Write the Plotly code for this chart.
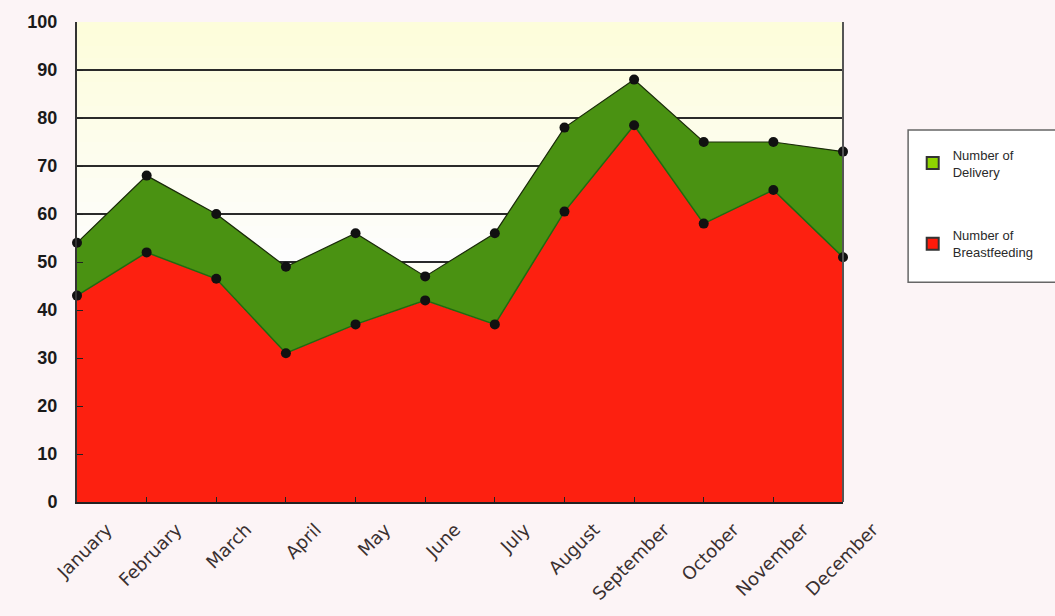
import plotly.graph_objects as go

months = ["January", "February", "March", "April", "May", "June", "July",
          "August", "September", "October", "November", "December"]
delivery = [54, 68, 60, 49, 56, 47, 56, 78, 88, 75, 75, 73]
breastfeeding = [43, 52, 46.5, 31, 37, 42, 37, 60.5, 78.5, 58, 65, 51]
y_ticks = [0, 10, 20, 30, 40, 50, 60, 70, 80, 90, 100]

fig = go.Figure()

fig.add_trace(go.Scatter(
    x=months, y=breastfeeding, mode="lines+markers", fill="tozeroy",
    fillcolor="#fd2010", line=dict(color="#1f6a10", width=1.5),
    marker=dict(color="#111111", size=10), showlegend=False, cliponaxis=False,
    name="Number of Breastfeeding"))
fig.add_trace(go.Scatter(
    x=months, y=delivery, mode="lines+markers", fill="tonexty",
    fillcolor="#4a9212", line=dict(color="#1a2a0a", width=1.2),
    marker=dict(color="#111111", size=10), showlegend=False, cliponaxis=False,
    name="Number of Delivery"))

# legend entries
fig.add_trace(go.Scatter(
    x=[None], y=[None], mode="markers", name="Number of<br>Delivery",
    legendgroup="d",
    marker=dict(symbol="square", size=11, color="#8fd400",
                line=dict(color="#333333", width=1.5))))
fig.add_trace(go.Scatter(
    x=[None], y=[None], mode="markers", name="Number of<br>Breastfeeding",
    legendgroup="b",
    marker=dict(symbol="square", size=11, color="#ff1a0a",
                line=dict(color="#333333", width=1.5))))

# soft yellow gradient in the upper plot area
n_bands = 20
for i in range(n_bands):
    y0 = 50 + i * 50 / n_bands
    t = (i + 1) / n_bands
    b = int(255 - 36 * t)
    fig.add_shape(type="rect", xref="paper", yref="y", x0=0, x1=1,
                  y0=y0, y1=y0 + 50 / n_bands, layer="below",
                  line=dict(width=0), fillcolor=f"rgb(253,253,{b})")

# legend frame (extends past the right edge like the original)
fig.add_shape(type="rect", xref="paper", yref="paper",
              x0=1.085, x1=1.29, y0=0.458, y1=0.775, layer="below",
              line=dict(color="#666666", width=1.5), fillcolor="#ffffff")

fig.update_layout(
    width=1055, height=616,
    margin=dict(l=77, r=212, t=22, b=114),
    paper_bgcolor="#fcf4f6",
    plot_bgcolor="#fefef6",
    font=dict(family="Liberation Sans, Arial, sans-serif", color="#1a1a1a"),
    legend=dict(
        x=1.091, y=0.755, xanchor="left", yanchor="top",
        traceorder="grouped",
        bgcolor="rgba(0,0,0,0)", borderwidth=0,
        font=dict(size=13, color="#2a2a2a"),
        tracegroupgap=44, itemsizing="constant",
    ),
)

fig.update_xaxes(
    type="category", range=[0, 11], tickangle=-45,
    tickfont=dict(size=18, family="DejaVu Sans, sans-serif", color="#3a3030"),
    ticks="inside", ticklen=5, tickcolor="#222222",
    ticklabelshift=30, ticklabelstandoff=8,
    showline=True, linecolor="#222222", linewidth=2, mirror=False,
    showgrid=False, zeroline=False,
)
fig.update_yaxes(
    range=[0, 100], tickvals=y_ticks, ticktext=[str(v) for v in y_ticks],
    tickfont=dict(size=18, color="#1a1a1a", weight="bold"),
    ticks="inside", ticklen=6, tickcolor="#222222", ticklabelstandoff=14,
    showline=True, linecolor="#333333", linewidth=2,
    showgrid=True, gridcolor="#2a2a2a", gridwidth=2, zeroline=False,
)

# right border of the plot area
fig.add_shape(type="line", xref="paper", yref="paper", x0=1, x1=1, y0=0, y1=1,
              line=dict(color="#555555", width=2))

fig.write_html("out.html")
